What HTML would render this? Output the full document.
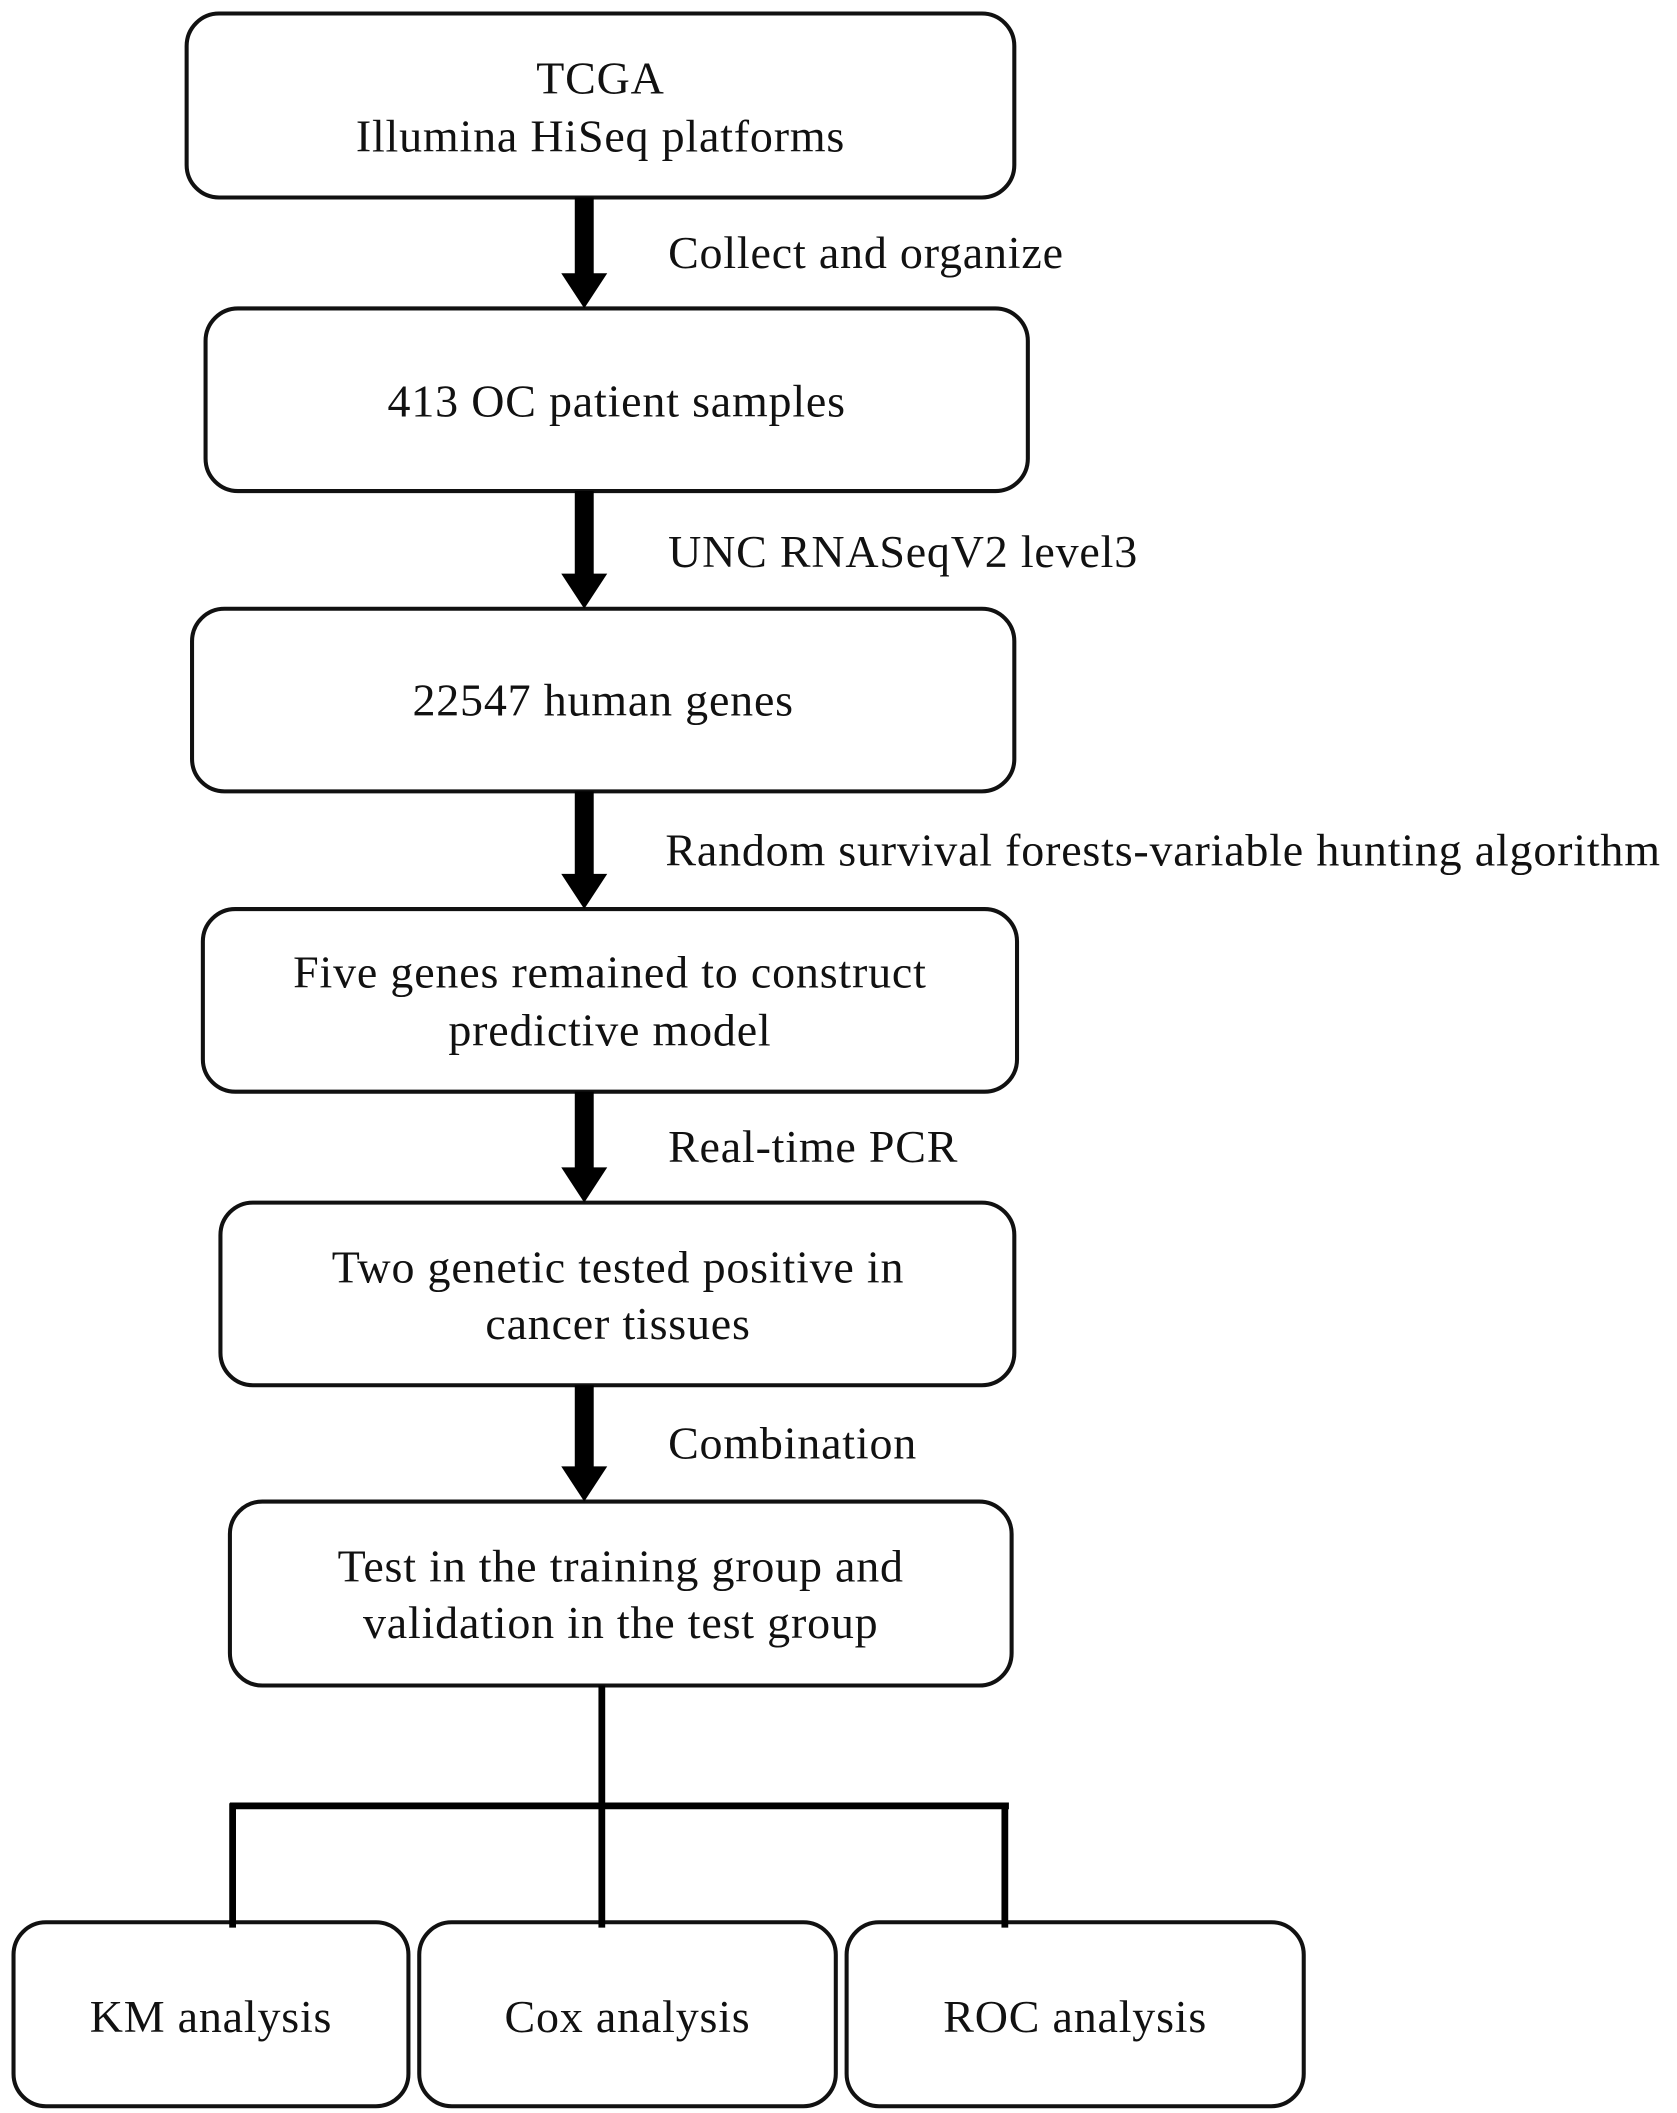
<!DOCTYPE html>
<html><head><meta charset="utf-8"><style>
html,body{margin:0;padding:0;background:#fff;}
svg{display:block;}
text{font-family:"Liberation Serif",serif;font-size:34px;letter-spacing:0.6px;fill:#111;}
</style></head><body>
<svg width="1677" height="2113" viewBox="0 0 1240 1562" preserveAspectRatio="none" xmlns="http://www.w3.org/2000/svg">
<g fill="none" stroke="#111" stroke-width="3">
<rect x="138" y="10" width="612" height="136" rx="24"/>
<rect x="152" y="228" width="608" height="135" rx="24"/>
<rect x="142" y="450" width="608" height="135" rx="24"/>
<rect x="150" y="672" width="602" height="135" rx="24"/>
<rect x="163" y="889" width="587" height="135" rx="24"/>
<rect x="170" y="1110" width="578" height="136" rx="24"/>
<rect x="10" y="1421" width="292" height="136" rx="24"/>
<rect x="310" y="1421" width="308" height="136" rx="24"/>
<rect x="626" y="1421" width="338" height="136" rx="24"/>
</g>
<g fill="#000">
<rect x="425" y="146" width="14" height="58"/><polygon points="415,202 449,202 432,228"/>
<rect x="425" y="363" width="14" height="63"/><polygon points="415,424 449,424 432,450"/>
<rect x="425" y="585" width="14" height="63"/><polygon points="415,646 449,646 432,672"/>
<rect x="425" y="807" width="14" height="58"/><polygon points="415,863 449,863 432,889"/>
<rect x="425" y="1024" width="14" height="62"/><polygon points="415,1084 449,1084 432,1110"/>
</g>
<g stroke="#000" stroke-width="5" fill="none">
<line x1="445" y1="1246" x2="445" y2="1335"/>
<line x1="170" y1="1335" x2="746" y2="1335"/>
<line x1="172" y1="1333" x2="172" y2="1425"/>
<line x1="445" y1="1333" x2="445" y2="1425"/>
<line x1="743" y1="1333" x2="743" y2="1425"/>
</g>
<g text-anchor="middle">
<text x="444" y="69">TCGA</text>
<text x="444" y="112">Illumina HiSeq platforms</text>
<text x="456" y="308">413 OC patient samples</text>
<text x="446" y="529">22547 human genes</text>
<text x="451" y="730">Five genes remained to construct</text>
<text x="451" y="773">predictive model</text>
<text x="457" y="948">Two genetic tested positive in</text>
<text x="457" y="990">cancer tissues</text>
<text x="459" y="1169">Test in the training group and</text>
<text x="459" y="1211">validation in the test group</text>
<text x="156" y="1502">KM analysis</text>
<text x="464" y="1502">Cox analysis</text>
<text x="795" y="1502">ROC analysis</text>
</g>
<text x="494" y="198">Collect and organize</text>
<text x="494" y="419">UNC RNASeqV2 level3</text>
<text x="492" y="640">Random survival forests-variable hunting algorithm</text>
<text x="494" y="859">Real-time PCR</text>
<text x="494" y="1078">Combination</text>
</svg>
</body></html>
